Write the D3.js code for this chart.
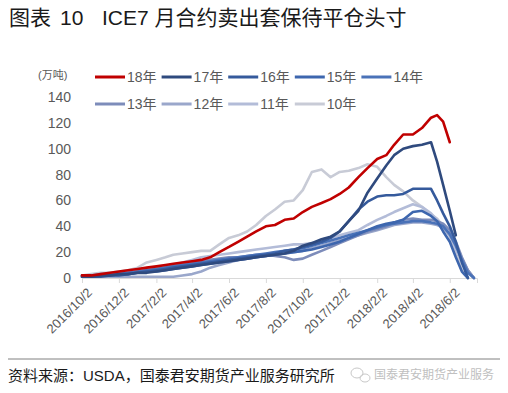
<!DOCTYPE html>
<html>
<head>
<meta charset="utf-8">
<script src="https://cdn.jsdelivr.net/npm/d3@7"></script>
<style>
  body { margin: 0; background: #fff; }
  svg { font-family: "Liberation Sans", "Noto Sans CJK SC", sans-serif; }
</style>
</head>
<body>
<div id="chart"></div>
<script>
// ICE July contract: short hedge open positions, one line per contract year

// Dates of the points (every year is aligned on the 2016-2018 calendar)
var dates = ["2016/10/2", "2016/10/17", "2016/11/2", "2016/11/17", "2016/12/2", "2016/12/17",
    "2017/1/2", "2017/1/17", "2017/2/2", "2017/2/17", "2017/3/2", "2017/3/17",
    "2017/4/2", "2017/4/17", "2017/5/2", "2017/5/17", "2017/6/2", "2017/6/17",
    "2017/7/2", "2017/7/17", "2017/8/2", "2017/8/17", "2017/9/2", "2017/9/17",
    "2017/10/2", "2017/10/17", "2017/11/2", "2017/11/17", "2017/12/2", "2017/12/17",
    "2018/1/2", "2018/1/17", "2018/2/2", "2018/2/17", "2018/3/2", "2018/3/17",
    "2018/4/2", "2018/4/17", "2018/5/2", "2018/5/12", "2018/5/22", "2018/6/2",
    "2018/6/12", "2018/6/22", "2018/7/2", "2018/7/12"];

var tickLabels = ["2016/10/2", "2016/12/2", "2017/2/2", "2017/4/2", "2017/6/2", "2017/8/2",
    "2017/10/2", "2017/12/2", "2018/2/2", "2018/4/2", "2018/6/2"];

var yTicks = [0, 20, 40, 60, 80, 100, 120, 140];

var seriesNames = ["18年", "17年", "16年", "15年", "14年", "13年", "12年", "11年", "10年"];
var seriesColors = ["#c00000", "#2f4a7e", "#355a9c", "#3d66ae", "#4a72b8", "#7d8cba", "#9aa7cb", "#b3bcd8", "#c8cbd6"];

// values in 万吨
var y18 = [2, 2, 3, 4, 5, 6, 7, 8, 9, 10, 11, 12, 13, 14, 16, 20, 24, 28, 32, 36, 40, 41, 45, 46,
    51, 55, 58, 61, 65, 70, 78, 85, 92, 95, 103, 111, 111, 116, 124, 126, 121, 105,
    null, null, null, null];
var y17 = [1, 1, 2, 2, 3, 3, 4, 4, 5, 6, 7, 8, 9, 10, 11, 12, 13, 14, 15, 16, 17, 18, 19, 21,
    25, 27, 30, 32, 36, 44, 52, 66, 77, 87, 95, 100, 102, 103, 105, 90, 72, 52,
    33, null, null, null];
var y16 = [1, 1, 1, 2, 2, 3, 4, 5, 6, 7, 8, 9, 10, 11, 12, 13, 14, 15, 16, 17, 18, 19, 21, 22,
    24, 26, 28, 31, 36, 44, 53, 59, 63, 64, 64, 65, 69, 69, 69, 60, 50, 40,
    28, 12, 0, null];
var y15 = [1, 1, 2, 2, 3, 3, 4, 5, 5, 6, 7, 8, 9, 10, 11, 12, 13, 14, 15, 16, 17, 18, 19, 20,
    21, 22, 24, 26, 28, 31, 34, 37, 40, 42, 43, 45, 51, 52, 48, 44, 36, 28,
    16, 5, 0, null];
var y14 = [2, 2, 2, 3, 3, 4, 5, 6, 7, 8, 9, 10, 11, 12, 13, 14, 15, 16, 17, 18, 19, 20, 21, 22,
    23, 25, 27, 29, 31, 33, 35, 37, 39, 41, 42, 43, 44, 44, 43, 42, 40, 34,
    25, 14, 4, 0];
var y13 = [2, 2, 3, 3, 4, 4, 5, 6, 7, 8, 10, 11, 12, 13, 14, 15, 16, 16, 17, 18, 18, 17, 16, 14,
    15, 18, 21, 24, 27, 30, 33, 36, 38, 40, 43, 45, 46, 45, 45, 44, 42, 37,
    28, 16, 6, 0];
var y12 = [1, 1, 1, 1, 1, 1, 1, 1, 1, 1, 1, 2, 3, 5, 8, 10, 12, 14, 15, 16, 17, 18, 19, 20,
    21, 23, 25, 27, 29, 31, 33, 35, 37, 39, 41, 42, 43, 43, 42, 41, 39, 33,
    25, 15, 6, 0];
var y11 = [2, 2, 3, 3, 4, 5, 6, 7, 8, 9, 10, 12, 14, 16, 17, 18, 19, 20, 21, 22, 23, 24, 25, 26,
    26, 27, 29, 31, 33, 35, 37, 41, 45, 48, 51, 54, 57, 55, 50, 45, 40, 33,
    22, 12, 4, 0];
var y10 = [2, 3, 4, 4, 5, 6, 8, 12, 14, 16, 18, 19, 20, 21, 21, 26, 31, 33, 36, 41, 48, 53, 59, 60,
    68, 82, 84, 78, 82, 83, 85, 88, 86, 78, 72, 67, 60, 55, 49, 46, 40, 32,
    20, 6, 0, null];

var seriesValues = [y18, y17, y16, y15, y14, y13, y12, y11, y10];

var width = 508,
    height = 393;

var parseDate = d3.timeParse("%Y/%m/%d");

var svg = d3.select("#chart")
    .append("svg")
    .attr("width", width)
    .attr("height", height);

// Title
var title = svg.append("g").style("font-size", "21px").style("fill", "#1a1a1a");
title.append("text").attr("x", 9).attr("y", 25).text("图表");
title.append("text").attr("x", 60).attr("y", 25).text("10");
title.append("text").attr("x", 102).attr("y", 25).text("ICE7 月合约卖出套保待平仓头寸");

// Scales
var x = d3.scaleTime()
    .domain([parseDate("2016/10/2"), parseDate("2018/7/17")])
    .range([82, 477]);

var y = d3.scaleLinear()
    .domain([0, 140])
    .range([278, 97]);

// X axis
var xAxis = svg.append("g")
    .attr("transform", "translate(0," + y(0) + ")")
    .call(d3.axisBottom(x)
        .tickValues(tickLabels.map(parseDate))
        .tickSize(5)
        .tickFormat(d3.timeFormat("%Y/%-m/%-d")));

xAxis.select(".domain").attr("stroke", "#d9d9d9");
xAxis.selectAll(".tick line").attr("stroke", "#d9d9d9");
xAxis.selectAll(".tick text")
    .attr("fill", "#595959")
    .style("font-size", "13px")
    .attr("text-anchor", "end")
    .attr("transform", "translate(4,9) rotate(-45)")
    .attr("x", 0)
    .attr("y", 0)
    .attr("dy", "0.7em");

// Y axis (labels only)
var yAxis = svg.append("g")
    .attr("transform", "translate(71,0)")
    .call(d3.axisLeft(y).tickValues(yTicks).tickSize(0).tickPadding(0));

yAxis.select(".domain").remove();
yAxis.selectAll(".tick text")
    .attr("fill", "#595959")
    .style("font-size", "14px");

svg.append("text")
    .attr("x", 38)
    .attr("y", 79)
    .style("font-size", "11px")
    .style("fill", "#595959")
    .text("(万吨)");

// Lines, oldest year at the back
var line = d3.line()
    .defined(function(d) { return d.v != null; })
    .x(function(d) { return x(d.t); })
    .y(function(d) { return y(d.v); });

for (let i = seriesValues.length - 1; i >= 0; i--) {
    let points = seriesValues[i].map(function(v, j) {
        return { t: parseDate(dates[j]), v: v };
    });
    svg.append("path")
        .datum(points)
        .attr("d", line)
        .attr("fill", "none")
        .attr("stroke", seriesColors[i])
        .attr("stroke-width", 2.6)
        .attr("stroke-linejoin", "round")
        .attr("stroke-linecap", "round");
}

// Legend, two rows
var legend = svg.append("g").style("font-size", "14px");
seriesNames.forEach(function(name, i) {
    let row = i < 5 ? 0 : 1;
    let col = i < 5 ? i : i - 5;
    let lx = 95 + col * 66.6;
    let ly = row === 0 ? 77 : 104;
    legend.append("line")
        .attr("x1", lx)
        .attr("x2", lx + 30)
        .attr("y1", ly)
        .attr("y2", ly)
        .attr("stroke", seriesColors[i])
        .attr("stroke-width", 3);
    legend.append("text")
        .attr("x", lx + 32)
        .attr("y", ly + 5)
        .style("fill", "#595959")
        .text(name);
});

// Footer
svg.append("line")
    .attr("x1", 8)
    .attr("x2", 500)
    .attr("y1", 359)
    .attr("y2", 359)
    .attr("stroke", "#808080")
    .attr("stroke-width", 1);

svg.append("text")
    .attr("x", 8)
    .attr("y", 381)
    .style("font-size", "15px")
    .style("fill", "#1a1a1a")
    .text("资料来源：USDA，国泰君安期货产业服务研究所");

// watermark
var mark = svg.append("g").style("fill", "none").attr("stroke", "#c8c8c8").attr("stroke-width", 1);
mark.append("ellipse").attr("cx", 357).attr("cy", 373).attr("rx", 6).attr("ry", 5);
mark.append("ellipse").attr("cx", 365).attr("cy", 378).attr("rx", 5).attr("ry", 4);
svg.append("text")
    .attr("x", 374)
    .attr("y", 379)
    .style("font-size", "12px")
    .style("fill", "#c0c0c0")
    .text("国泰君安期货产业服务");
</script>
</body>
</html>
